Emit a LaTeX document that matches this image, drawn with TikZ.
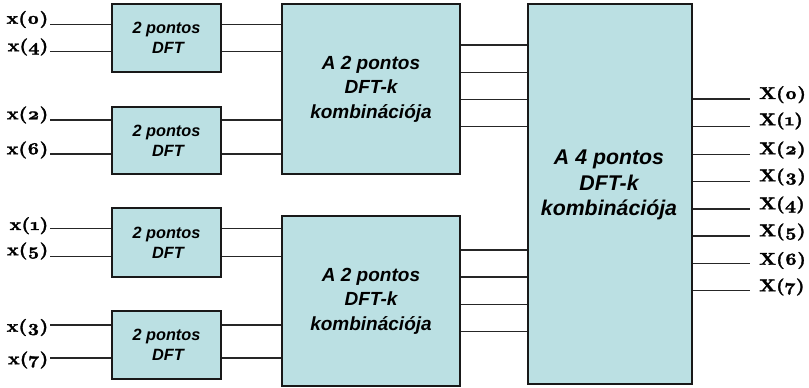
\documentclass[tikz,border=0pt]{standalone}
\usepackage{fontspec}
\newfontfamily\boxfont{Liberation Sans}
% heavy, wide serif face with old-style figures for the signal labels
\newfontfamily\sigserif{lmroman10-bold.otf}[Numbers=OldStyle, FakeBold=1.8, FakeStretch=1.14]
\newcommand\sigfont{\sigserif\fontsize{17}{18}\selectfont}
\definecolor{boxfill}{RGB}{187,224,227}
\begin{document}
\begin{tikzpicture}[x=1pt,y=-1pt,
  blk/.style={draw=black!90, line width=1.3pt, fill=boxfill, rectangle, inner sep=0pt},
  wire/.style={draw=black!85, line width=1.2pt},
  smalltxt/.style={font=\boxfont\bfseries\itshape\fontsize{16.3}{20}\selectfont, align=center},
  midtxt/.style={font=\boxfont\bfseries\itshape\fontsize{19}{24.5}\selectfont, align=center},
  bigtxt/.style={font=\boxfont\bfseries\itshape\fontsize{21.3}{25.5}\selectfont, align=center},
  sig/.style={font=\sigfont, inner sep=0pt}]
\useasboundingbox (0,0) rectangle (809,388);

% 2-point DFT blocks
\node[blk, smalltxt, minimum width=109pt, minimum height=68pt] (d1) at (166.5,38) {2 pontos\\\hspace*{3pt}DFT};
\node[blk, smalltxt, minimum width=109pt, minimum height=67pt] (d2) at (166.5,140.5) {2 pontos\\\hspace*{3pt}DFT};
\node[blk, smalltxt, minimum width=109pt, minimum height=69pt] (d3) at (166.5,242.5) {2 pontos\\\hspace*{3pt}DFT};
\node[blk, smalltxt, minimum width=109pt, minimum height=68pt] (d4) at (166.5,345) {2 pontos\\\hspace*{3pt}DFT};

% combination stages
\node[blk, midtxt, minimum width=178pt, minimum height=170pt] (c1) at (371,89) {A 2 pontos\\DFT-k\\kombinációja};
\node[blk, midtxt, minimum width=178pt, minimum height=170pt] (c2) at (371,301) {A 2 pontos\\DFT-k\\kombinációja};
\node[blk, minimum width=164pt, minimum height=380pt] (big) at (610,194) {};
\node[bigtxt] (bigt) at (609,185) {A 4 pontos\\DFT-k\\kombinációja};

% inputs
\foreach \n/\y/\ly/\blk/\cmb in {0/24.7/19.5/d1/c1, 4/51.7/47/d1/c1, 2/120/115/d2/c1, 6/154/150/d2/c1,
                                 1/228.7/225.7/d3/c2, 5/256.7/251/d3/c2, 3/325/327.5/d4/c2, 7/358/360/d4/c2} {
  \coordinate (p\n) at (50,\y);
  \node[sig, anchor=east] (xin\n) at (48.5,\ly) {x(\n)};
  \draw[wire] (p\n) -- (p\n -| \blk.west);
  \draw[wire] (p\n -| \blk.east) -- (p\n -| \cmb.west);
}

% intermediate connections into the 4-point stage
\foreach \k/\y/\cmb in {1/45/c1, 2/72.3/c1, 3/99.3/c1, 4/126.7/c1,
                        5/250/c2, 6/277/c2, 7/304.3/c2, 8/331.7/c2} {
  \coordinate (m\k) at (500,\y);
  \draw[wire] (m\k -| \cmb.east) -- (m\k -| big.west);
}

% outputs
\foreach \n/\y/\ly in {0/99/94.7, 1/126.3/121, 2/154.3/150, 3/181.7/177,
                       4/209/205, 5/236/232, 6/263.3/260.5, 7/290.7/287} {
  \coordinate (q\n) at (750,\y);
  \draw[wire] (q\n -| big.east) -- (q\n);
  \node[sig, anchor=west] (xout\n) at (759,\ly) {X(\n)};
}
\end{tikzpicture}
\end{document}
